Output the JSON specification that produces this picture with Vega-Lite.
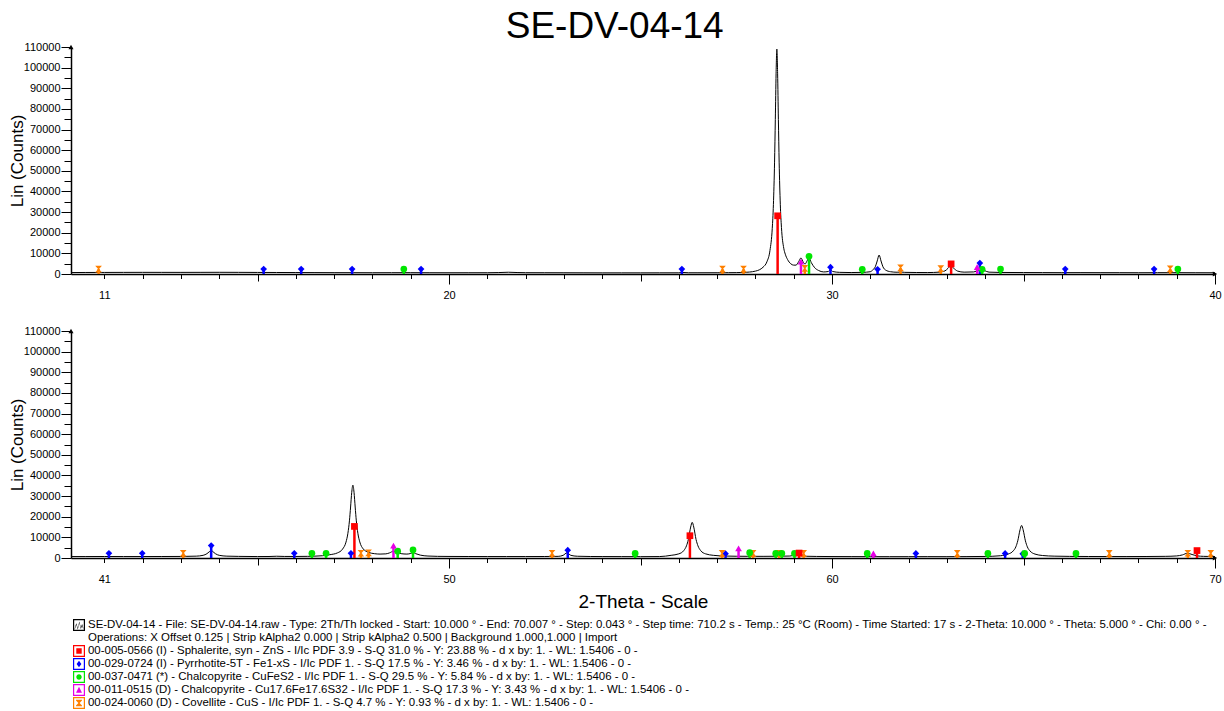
{
"$schema": "https://vega.github.io/schema/vega-lite/v6.json",
"padding": {"left": 8, "top": 8, "right": 6, "bottom": 4},
"background": "white",
"title": {"text": "SE-DV-04-14", "fontSize": 37, "font": "Liberation Sans", "fontWeight": "normal", "color": "black", "offset": -5, "anchor": "middle"},
"config": {
 "view": {"stroke": null},
 "axis": {"labelFont": "Liberation Sans", "labelFontSize": 11, "labelColor": "black", "domainColor": "black", "tickColor": "black", "grid": false, "titleFont": "Liberation Sans", "titleFontWeight": "normal", "titleColor": "black", "domainWidth": 1.5, "tickWidth": 1, "labelOverlap": false, "labelBound": false, "tickCount": 200},
 "legend": {"labelFont": "Liberation Sans", "labelFontSize": 11.45, "labelColor": "black"}
},
"bounds": "flush",
"spacing": 57,
"resolve": {"scale": {"color": "independent", "shape": "independent"}, "legend": {"color": "independent", "shape": "independent"}},
"datasets": {
 "scanTop": [
  {"t":10.13,"c":700},{"t":10.5,"c":740},{"t":11,"c":760},{"t":11.5,"c":780},{"t":12,"c":800},{"t":12.5,"c":790},{"t":13,"c":780},{"t":13.5,"c":800},{"t":14,"c":820},{"t":14.5,"c":800},{"t":15,"c":760},{"t":15.5,"c":730},{"t":16,"c":700},{"t":16.5,"c":680},{"t":17,"c":650},{"t":17.5,"c":640},{"t":18,"c":620},{"t":18.5,"c":630},{"t":19,"c":640},{"t":19.5,"c":620},{"t":20,"c":600},{"t":20.5,"c":610},{"t":21,"c":620},{"t":21.3,"c":700},{"t":21.55,"c":850},{"t":21.8,"c":700},{"t":22,"c":630},{"t":22.5,"c":620},{"t":23,"c":600},{"t":23.5,"c":580},{"t":24,"c":560},{"t":24.5,"c":560},{"t":25,"c":560},{"t":25.5,"c":570},{"t":26,"c":580},{"t":26.1,"c":750},{"t":26.25,"c":600},{"t":26.5,"c":600},{"t":27,"c":620},{"t":27.3,"c":650},{"t":27.5,"c":680},{"t":27.7,"c":760},{"t":27.85,"c":950},{"t":28.0,"c":1400},{"t":28.1,"c":2000},{"t":28.2,"c":3300},{"t":28.3,"c":5900},{"t":28.38,"c":11400},{"t":28.44,"c":22100},{"t":28.47,"c":33600},{"t":28.5,"c":54200},{"t":28.52,"c":74800},{"t":28.54,"c":97000},{"t":28.56,"c":109000},{"t":28.58,"c":97000},{"t":28.6,"c":74800},{"t":28.62,"c":54200},{"t":28.65,"c":33800},{"t":28.68,"c":22600},{"t":28.74,"c":12500},{"t":28.78,"c":9600},{"t":28.84,"c":7000},{"t":28.92,"c":5000},{"t":29.0,"c":4300},{"t":29.06,"c":4300},{"t":29.13,"c":6000},{"t":29.19,"c":7800},{"t":29.25,"c":5700},{"t":29.3,"c":4900},{"t":29.35,"c":6400},{"t":29.4,"c":7800},{"t":29.46,"c":5500},{"t":29.55,"c":3000},{"t":29.65,"c":1700},{"t":29.78,"c":1000},{"t":29.9,"c":1200},{"t":29.96,"c":2000},{"t":30.02,"c":1200},{"t":30.2,"c":800},{"t":30.5,"c":700},{"t":30.8,"c":800},{"t":31.0,"c":1100},{"t":31.06,"c":1900},{"t":31.13,"c":3500},{"t":31.18,"c":6300},{"t":31.23,"c":9200},{"t":31.28,"c":6300},{"t":31.33,"c":3500},{"t":31.4,"c":1900},{"t":31.53,"c":1100},{"t":31.7,"c":850},{"t":31.8,"c":950},{"t":31.9,"c":800},{"t":32.2,"c":720},{"t":32.5,"c":700},{"t":32.8,"c":900},{"t":32.95,"c":1500},{"t":33.03,"c":2800},{"t":33.1,"c":3900},{"t":33.17,"c":2900},{"t":33.28,"c":1400},{"t":33.45,"c":900},{"t":33.7,"c":1000},{"t":33.82,"c":1800},{"t":33.9,"c":2400},{"t":33.98,"c":1700},{"t":34.1,"c":900},{"t":34.4,"c":750},{"t":35,"c":700},{"t":35.5,"c":680},{"t":36,"c":650},{"t":36.5,"c":660},{"t":37,"c":650},{"t":37.5,"c":640},{"t":38,"c":620},{"t":38.5,"c":640},{"t":39,"c":650},{"t":39.5,"c":620},{"t":40,"c":600}
 ],
 "scanBot": [
  {"t":40.13,"c":700},{"t":40.5,"c":700},{"t":41,"c":720},{"t":41.5,"c":700},{"t":42,"c":700},{"t":42.5,"c":720},{"t":43,"c":750},{"t":43.4,"c":900},{"t":43.58,"c":1300},{"t":43.68,"c":2100},{"t":43.74,"c":3000},{"t":43.79,"c":3700},{"t":43.84,"c":3000},{"t":43.9,"c":2100},{"t":44.0,"c":1300},{"t":44.2,"c":900},{"t":44.5,"c":780},{"t":45,"c":700},{"t":45.3,"c":720},{"t":45.5,"c":850},{"t":45.7,"c":750},{"t":46,"c":750},{"t":46.3,"c":800},{"t":46.5,"c":900},{"t":46.7,"c":1100},{"t":46.89,"c":1600},{"t":47.09,"c":2500},{"t":47.22,"c":4300},{"t":47.31,"c":7700},{"t":47.36,"c":12000},{"t":47.4,"c":18000},{"t":47.43,"c":24700},{"t":47.46,"c":31800},{"t":47.49,"c":35300},{"t":47.52,"c":31800},{"t":47.55,"c":24700},{"t":47.58,"c":18000},{"t":47.62,"c":12000},{"t":47.67,"c":7800},{"t":47.76,"c":4400},{"t":47.89,"c":2800},{"t":48.05,"c":2100},{"t":48.2,"c":1900},{"t":48.35,"c":2000},{"t":48.45,"c":2500},{"t":48.55,"c":3300},{"t":48.64,"c":2700},{"t":48.75,"c":2100},{"t":48.9,"c":1900},{"t":49.0,"c":2200},{"t":49.06,"c":2600},{"t":49.13,"c":2100},{"t":49.25,"c":1400},{"t":49.45,"c":950},{"t":49.7,"c":800},{"t":50,"c":750},{"t":50.5,"c":720},{"t":51,"c":700},{"t":51.5,"c":700},{"t":52,"c":700},{"t":52.5,"c":720},{"t":52.85,"c":800},{"t":52.98,"c":1300},{"t":53.08,"c":2500},{"t":53.18,"c":1300},{"t":53.35,"c":850},{"t":53.7,"c":720},{"t":54,"c":700},{"t":54.5,"c":680},{"t":55,"c":650},{"t":55.5,"c":700},{"t":55.8,"c":1300},{"t":56.0,"c":2000},{"t":56.13,"c":3600},{"t":56.2,"c":5900},{"t":56.25,"c":9000},{"t":56.31,"c":15000},{"t":56.35,"c":17300},{"t":56.39,"c":15000},{"t":56.45,"c":9000},{"t":56.5,"c":5900},{"t":56.57,"c":3600},{"t":56.7,"c":2000},{"t":56.9,"c":1300},{"t":57.2,"c":950},{"t":57.5,"c":850},{"t":57.8,"c":820},{"t":58.2,"c":800},{"t":58.6,"c":850},{"t":58.9,"c":950},{"t":59.05,"c":1400},{"t":59.15,"c":1200},{"t":59.3,"c":850},{"t":59.6,"c":750},{"t":60,"c":700},{"t":60.5,"c":680},{"t":61,"c":650},{"t":61.5,"c":650},{"t":62,"c":650},{"t":62.5,"c":660},{"t":63,"c":650},{"t":63.5,"c":680},{"t":64.0,"c":750},{"t":64.4,"c":1100},{"t":64.6,"c":1900},{"t":64.73,"c":3400},{"t":64.8,"c":5400},{"t":64.85,"c":8300},{"t":64.91,"c":13700},{"t":64.95,"c":15800},{"t":64.99,"c":13700},{"t":65.05,"c":8300},{"t":65.1,"c":5400},{"t":65.17,"c":3400},{"t":65.3,"c":1900},{"t":65.5,"c":1200},{"t":65.8,"c":900},{"t":66.2,"c":780},{"t":66.7,"c":720},{"t":67.2,"c":700},{"t":67.7,"c":700},{"t":68.2,"c":720},{"t":68.7,"c":800},{"t":69.0,"c":1000},{"t":69.15,"c":1500},{"t":69.28,"c":2300},{"t":69.4,"c":1700},{"t":69.55,"c":1000},{"t":69.7,"c":800},{"t":70,"c":700}
 ],
 "sticksTop": [
  {"t":10.85,"h":2400,"phase":"Cv"},{"t":27.14,"h":2400,"phase":"Cv"},{"t":27.69,"h":2400,"phase":"Cv"},{"t":29.29,"h":2700,"phase":"Cv"},{"t":31.79,"h":3000,"phase":"Cv"},{"t":32.84,"h":2600,"phase":"Cv"},{"t":38.83,"h":2500,"phase":"Cv"},
  {"t":15.16,"h":2400,"phase":"Pyr"},{"t":16.14,"h":2400,"phase":"Pyr"},{"t":17.47,"h":2400,"phase":"Pyr"},{"t":19.27,"h":2400,"phase":"Pyr"},{"t":26.08,"h":2400,"phase":"Pyr"},{"t":29.96,"h":3300,"phase":"Pyr"},{"t":31.19,"h":2300,"phase":"Pyr"},{"t":33.86,"h":5300,"phase":"Pyr"},{"t":36.09,"h":2400,"phase":"Pyr"},{"t":38.41,"h":2400,"phase":"Pyr"},
  {"t":18.82,"h":2400,"phase":"Ccp"},{"t":29.40,"h":8600,"phase":"Ccp"},{"t":30.79,"h":2300,"phase":"Ccp"},{"t":33.92,"h":2300,"phase":"Ccp"},{"t":34.40,"h":2400,"phase":"Ccp"},{"t":39.03,"h":2400,"phase":"Ccp"},
  {"t":29.19,"h":6000,"phase":"Ccp2"},{"t":33.79,"h":3400,"phase":"Ccp2"},
  {"t":28.58,"h":28200,"phase":"Sph"},{"t":33.11,"h":4900,"phase":"Sph"}
 ],
 "sticksBot": [
  {"t":41.12,"h":2300,"phase":"Pyr"},{"t":41.99,"h":2300,"phase":"Pyr"},{"t":43.79,"h":6000,"phase":"Pyr"},{"t":45.96,"h":2300,"phase":"Pyr"},{"t":47.44,"h":2300,"phase":"Pyr"},{"t":53.10,"h":3800,"phase":"Pyr"},{"t":57.22,"h":2100,"phase":"Pyr"},{"t":62.19,"h":2200,"phase":"Pyr"},{"t":64.52,"h":2200,"phase":"Pyr"},{"t":64.98,"h":2000,"phase":"Pyr"},
  {"t":43.06,"h":2300,"phase":"Cv"},{"t":47.70,"h":2300,"phase":"Cv"},{"t":47.90,"h":2500,"phase":"Cv"},{"t":52.69,"h":2300,"phase":"Cv"},{"t":57.13,"h":2200,"phase":"Cv"},{"t":57.94,"h":2200,"phase":"Cv"},{"t":58.62,"h":2200,"phase":"Cv"},{"t":59.26,"h":2200,"phase":"Cv"},{"t":63.27,"h":2200,"phase":"Cv"},{"t":67.24,"h":2200,"phase":"Cv"},{"t":69.29,"h":2300,"phase":"Cv"},{"t":69.89,"h":2200,"phase":"Cv"},
  {"t":46.42,"h":2300,"phase":"Ccp"},{"t":46.79,"h":2300,"phase":"Ccp"},{"t":48.66,"h":3300,"phase":"Ccp"},{"t":49.06,"h":3900,"phase":"Ccp"},{"t":54.86,"h":2200,"phase":"Ccp"},{"t":57.85,"h":2600,"phase":"Ccp"},{"t":58.53,"h":2200,"phase":"Ccp"},{"t":58.69,"h":2200,"phase":"Ccp"},{"t":59.02,"h":2200,"phase":"Ccp"},{"t":60.92,"h":2200,"phase":"Ccp"},{"t":64.07,"h":2200,"phase":"Ccp"},{"t":65.03,"h":2200,"phase":"Ccp"},{"t":66.37,"h":2200,"phase":"Ccp"},
  {"t":48.55,"h":6000,"phase":"Ccp2"},{"t":57.56,"h":4700,"phase":"Ccp2"},{"t":61.08,"h":2200,"phase":"Ccp2"},
  {"t":47.53,"h":15300,"phase":"Sph"},{"t":56.29,"h":10800,"phase":"Sph"},{"t":59.14,"h":2400,"phase":"Sph"},{"t":69.53,"h":3600,"phase":"Sph"}
 ],
 "legendRows": [
  {"phase":"scan"},{"phase":"ops"},{"phase":"Sph"},{"phase":"Pyr"},{"phase":"Ccp"},{"phase":"Ccp2"},{"phase":"Cv"}
 ]
},
"vconcat": [
 {
  "width": 1144, "height": 227,
  "layer": [
   {"data": {"name": "scanTop"}, "mark": {"type": "line", "color": "black", "strokeWidth": 1, "interpolate": "monotone", "clip": true},
    "encoding": {
     "x": {"field": "t", "type": "quantitative", "scale": {"domain": [10.13, 40], "nice": false, "zero": false},
      "axis": {"title": null, "values": [11,12,13,14,15,16,17,18,19,20,21,22,23,24,25,26,27,28,29,30,31,32,33,34,35,36,37,38,39,40], "format": "d", "tickCount": 200,
       "labelExpr": "datum.value % 10 === 0 || datum.value === 11 ? datum.label : ' '", "labelOverlap": false, "labelFlush": false,
       "labelPadding": {"condition": {"test": "datum.value % 10 === 0", "value": 5}, "value": 10.5},
       "labelFontSize": {"condition": {"test": "datum.value % 10 === 0 || datum.value === 11", "value": 11}, "value": 1},
       "tickSize": {"condition": [{"test": "datum.value % 10 === 0", "value": 10}, {"test": "datum.value % 5 === 0", "value": 7}], "value": 4.5}}},
     "y": {"field": "c", "type": "quantitative", "scale": {"domain": [0, 110000], "nice": false},
      "axis": {"title": "Lin (Counts)", "titleFontSize": 17, "titlePadding": -3, "values": [0,5000,10000,15000,20000,25000,30000,35000,40000,45000,50000,55000,60000,65000,70000,75000,80000,85000,90000,95000,100000,105000,110000], "format": "d", "tickCount": 200,
       "labelExpr": "datum.value % 10000 === 0 ? datum.label : ' '", "labelOverlap": false, "labelPadding": 1,
       "labelFontSize": {"condition": {"test": "datum.value % 10000 === 0", "value": 11}, "value": 1},
       "tickSize": {"condition": {"test": "datum.value % 10000 === 0", "value": 10}, "value": 7}}}
    }},
   {"data": {"name": "sticksTop"}, "mark": {"type": "rule", "strokeWidth": 2.5},
    "encoding": {
     "x": {"field": "t", "type": "quantitative"},
     "y": {"field": "h", "type": "quantitative"},
     "y2": {"datum": 0},
     "color": {"field": "phase", "type": "nominal", "legend": null,
      "scale": {"domain": ["Sph","Pyr","Ccp","Ccp2","Cv"], "range": ["#ff0000","#0000ff","#00e600","#e600e6","#ff8000"]}}
    }},
   {"data": {"name": "sticksTop"}, "mark": {"type": "point", "filled": true, "size": 45, "opacity": 1},
    "encoding": {
     "x": {"field": "t", "type": "quantitative"},
     "y": {"field": "h", "type": "quantitative"},
     "shape": {"field": "phase", "type": "nominal", "legend": null,
      "scale": {"domain": ["Sph","Pyr","Ccp","Ccp2","Cv"], "range": ["square","diamond","circle","triangle-up","M-1,-1H1L0.15,0L1,1H-1L-0.15,0Z"]}},
     "color": {"field": "phase", "type": "nominal", "legend": null,
      "scale": {"domain": ["Sph","Pyr","Ccp","Ccp2","Cv"], "range": ["#ff0000","#0000ff","#00e600","#e600e6","#ff8000"]}}
    }},
   {"data": {"values": [{}]}, "mark": {"type": "point", "shape": "triangle-up", "filled": true, "color": "black", "size": 25, "opacity": 1},
    "encoding": {"x": {"datum": 10.13, "type": "quantitative"}, "y": {"datum": 110000, "type": "quantitative"}}},
   {"data": {"values": [{}]}, "mark": {"type": "point", "shape": "triangle-right", "filled": true, "color": "black", "size": 25, "opacity": 1},
    "encoding": {"x": {"datum": 40, "type": "quantitative"}, "y": {"datum": 0, "type": "quantitative"}}}
  ]
 },
 {
  "width": 1144, "height": 227,
  "layer": [
   {"data": {"name": "scanBot"}, "mark": {"type": "line", "color": "black", "strokeWidth": 1, "interpolate": "monotone", "clip": true},
    "encoding": {
     "x": {"field": "t", "type": "quantitative", "scale": {"domain": [40.13, 70], "nice": false, "zero": false},
      "axis": {"title": "2-Theta - Scale", "titleFontSize": 19, "titlePadding": 8, "values": [41,42,43,44,45,46,47,48,49,50,51,52,53,54,55,56,57,58,59,60,61,62,63,64,65,66,67,68,69,70], "format": "d", "tickCount": 200,
       "labelExpr": "datum.value % 10 === 0 || datum.value === 41 ? datum.label : ' '", "labelOverlap": false, "labelFlush": false,
       "labelPadding": {"condition": {"test": "datum.value % 10 === 0", "value": 5}, "value": 10.5},
       "labelFontSize": {"condition": {"test": "datum.value % 10 === 0 || datum.value === 41", "value": 11}, "value": 1},
       "tickSize": {"condition": [{"test": "datum.value % 10 === 0", "value": 10}, {"test": "datum.value % 5 === 0", "value": 7}], "value": 4.5}}},
     "y": {"field": "c", "type": "quantitative", "scale": {"domain": [0, 110000], "nice": false},
      "axis": {"title": "Lin (Counts)", "titleFontSize": 17, "titlePadding": -3, "values": [0,5000,10000,15000,20000,25000,30000,35000,40000,45000,50000,55000,60000,65000,70000,75000,80000,85000,90000,95000,100000,105000,110000], "format": "d", "tickCount": 200,
       "labelExpr": "datum.value % 10000 === 0 ? datum.label : ' '", "labelOverlap": false, "labelPadding": 1,
       "labelFontSize": {"condition": {"test": "datum.value % 10000 === 0", "value": 11}, "value": 1},
       "tickSize": {"condition": {"test": "datum.value % 10000 === 0", "value": 10}, "value": 7}}}
    }},
   {"data": {"name": "sticksBot"}, "mark": {"type": "rule", "strokeWidth": 2.5},
    "encoding": {
     "x": {"field": "t", "type": "quantitative"},
     "y": {"field": "h", "type": "quantitative"},
     "y2": {"datum": 0},
     "color": {"field": "phase", "type": "nominal", "legend": null,
      "scale": {"domain": ["Sph","Pyr","Ccp","Ccp2","Cv"], "range": ["#ff0000","#0000ff","#00e600","#e600e6","#ff8000"]}}
    }},
   {"data": {"name": "sticksBot"}, "mark": {"type": "point", "filled": true, "size": 45, "opacity": 1},
    "encoding": {
     "x": {"field": "t", "type": "quantitative"},
     "y": {"field": "h", "type": "quantitative"},
     "shape": {"field": "phase", "type": "nominal", "legend": null,
      "scale": {"domain": ["Sph","Pyr","Ccp","Ccp2","Cv"], "range": ["square","diamond","circle","triangle-up","M-1,-1H1L0.15,0L1,1H-1L-0.15,0Z"]}},
     "color": {"field": "phase", "type": "nominal", "legend": null,
      "scale": {"domain": ["Sph","Pyr","Ccp","Ccp2","Cv"], "range": ["#ff0000","#0000ff","#00e600","#e600e6","#ff8000"]}}
    }},
   {"data": {"values": [{}]}, "mark": {"type": "point", "shape": "triangle-up", "filled": true, "color": "black", "size": 25, "opacity": 1},
    "encoding": {"x": {"datum": 40.13, "type": "quantitative"}, "y": {"datum": 110000, "type": "quantitative"}}},
   {"data": {"values": [{}]}, "mark": {"type": "point", "shape": "triangle-right", "filled": true, "color": "black", "size": 25, "opacity": 1},
    "encoding": {"x": {"datum": 70, "type": "quantitative"}, "y": {"datum": 0, "type": "quantitative"}}}
  ]
 },
 {
  "width": 1144, "height": 1,
  "data": {"name": "legendRows"},
  "mark": {"type": "point", "filled": true, "size": 1},
  "encoding": {
   "opacity": {"value": 0},
   "color": {"field": "phase", "type": "nominal",
    "scale": {"domain": ["scan","ops","Sph","Pyr","Ccp","Ccp2","Cv"], "range": ["#000000","#ffffff","#ff0000","#0000ff","#00e600","#e600e6","#ff8000"]},
    "legend": {"orient": "bottom", "direction": "vertical", "title": null, "labelLimit": 1300, "symbolSize": 144, "symbolStrokeWidth": 0, "symbolOpacity": 1, "rowPadding": 1.0, "labelOffset": 3, "offset": 1, "padding": 2,
     "labelExpr": "{'scan': 'SE-DV-04-14 - File: SE-DV-04-14.raw - Type: 2Th/Th locked - Start: 10.000 ° - End: 70.007 ° - Step: 0.043 ° - Step time: 710.2 s - Temp.: 25 °C (Room) - Time Started: 17 s - 2-Theta: 10.000 ° - Theta: 5.000 ° - Chi: 0.00 ° -', 'ops': 'Operations: X Offset 0.125 | Strip kAlpha2 0.000 | Strip kAlpha2 0.500 | Background 1.000,1.000 | Import', 'Sph': '00-005-0566 (I) - Sphalerite, syn - ZnS - I/Ic PDF 3.9 - S-Q 31.0 % - Y: 23.88 % - d x by: 1. - WL: 1.5406 - 0 -', 'Pyr': '00-029-0724 (I) - Pyrrhotite-5T - Fe1-xS - I/Ic PDF 1. - S-Q 17.5 % - Y: 3.46 % - d x by: 1. - WL: 1.5406 - 0 -', 'Ccp': '00-037-0471 (*) - Chalcopyrite - CuFeS2 - I/Ic PDF 1. - S-Q 29.5 % - Y: 5.84 % - d x by: 1. - WL: 1.5406 - 0 -', 'Ccp2': '00-011-0515 (D) - Chalcopyrite - Cu17.6Fe17.6S32 - I/Ic PDF 1. - S-Q 17.3 % - Y: 3.43 % - d x by: 1. - WL: 1.5406 - 0 -', 'Cv': '00-024-0060 (D) - Covellite - CuS - I/Ic PDF 1. - S-Q 4.7 % - Y: 0.93 % - d x by: 1. - WL: 1.5406 - 0 -'}[datum.label]"}},
   "shape": {"field": "phase", "type": "nominal",
    "scale": {"domain": ["scan","ops","Sph","Pyr","Ccp","Ccp2","Cv"], "range": [
     "M-1,-1H1V1H-1Z M-0.8,-0.8V0.8H0.8V-0.8Z M-0.7,0.5L-0.45,-0.3L-0.2,0.5L0.05,-0.6L0.3,0.4L0.52,-0.15L0.7,0.4L0.7,0.66L0.52,0.11L0.3,0.66L0.05,-0.34L-0.2,0.76L-0.45,-0.04L-0.7,0.76Z",
     "M-0.1,-0.1H0.1V0.1H-0.1Z",
     "M-1,-1H1V1H-1Z M-0.8,-0.8V0.8H0.8V-0.8Z M-0.45,-0.45H0.45V0.45H-0.45Z",
     "M-1,-1H1V1H-1Z M-0.8,-0.8V0.8H0.8V-0.8Z M0,-0.55L0.4,0L0,0.55L-0.4,0Z",
     "M-1,-1H1V1H-1Z M-0.8,-0.8V0.8H0.8V-0.8Z M-0.45,0A0.45,0.45 0 1,1 0.45,0A0.45,0.45 0 1,1 -0.45,0Z",
     "M-1,-1H1V1H-1Z M-0.8,-0.8V0.8H0.8V-0.8Z M0,-0.55L0.5,0.45H-0.5Z",
     "M-1,-1H1V1H-1Z M-0.8,-0.8V0.8H0.8V-0.8Z M-0.5,-0.55H0.5V-0.42L0.1,0L0.5,0.42V0.55H-0.5V0.42L-0.1,0L-0.5,-0.42Z"]},
    "legend": {"orient": "bottom", "direction": "vertical", "title": null, "symbolOpacity": 1}}
  }
 }
]
}
